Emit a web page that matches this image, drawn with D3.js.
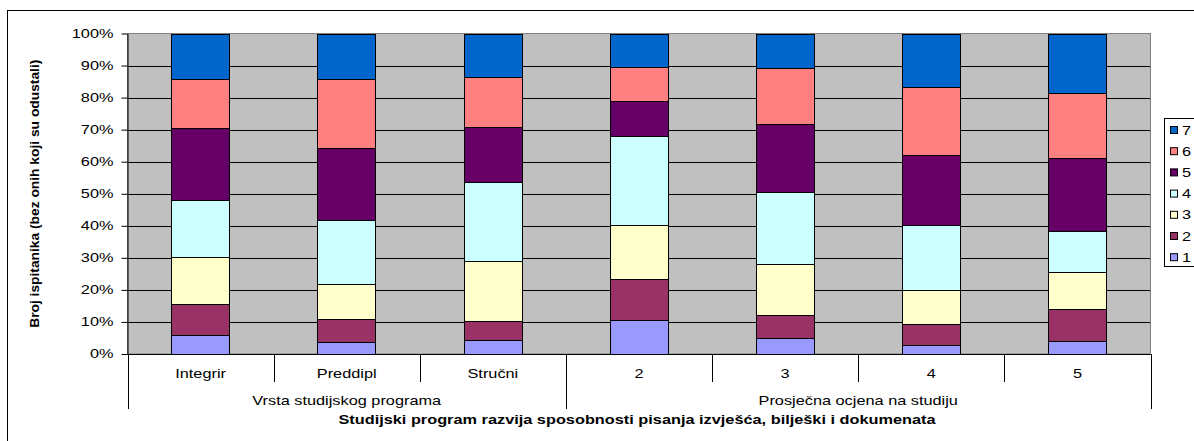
<!DOCTYPE html>
<html><head><meta charset="utf-8">
<script src="https://cdn.jsdelivr.net/npm/d3@7"></script>
<style>body{margin:0;background:#fff}svg{display:block;font-family:"Liberation Sans",Arial,sans-serif}</style>
</head><body>
<svg id="c" width="1194" height="441"></svg>
<script>
const categories = ["Integrir","Preddipl","Stručni","2","3","4","5"];
const groups = [{name:"Vrsta studijskog programa", from:0, to:3},{name:"Prosječna ocjena na studiju", from:3, to:7}];
const seriesNames = ["1","2","3","4","5","6","7"];
const colors = ["#9999FF","#993366","#FFFFCC","#CCFFFF","#660066","#FF8080","#0066CC"];
const s1 = [5.8, 3.6, 4.3, 10.5, 5.1, 2.7, 4.2];
const s2 = [9.8, 7.3, 5.9, 12.9, 7.0, 6.6, 9.8];
const s3 = [14.7, 10.9, 18.9, 16.9, 15.9, 10.6, 11.5];
const s4 = [17.8, 20.0, 24.6, 27.8, 22.6, 20.4, 12.8];
const s5 = [22.3, 22.4, 17.2, 10.8, 21.1, 21.7, 22.7];
const s6 = [15.3, 21.5, 15.6, 10.5, 17.4, 21.2, 20.3];
const s7 = [14.3, 14.3, 13.5, 10.6, 10.9, 16.8, 18.7];
const yTicks = [0,10,20,30,40,50,60,70,80,90,100];
const yTitle = "Broj ispitanika (bez onih koji su odustali)";
const xTitle = "Studijski program razvija sposobnosti pisanja izvješća, bilješki i dokumenata";

const series = [s1,s2,s3,s4,s5,s6,s7];
const svg = d3.select("#c");
const L = 127.5, R = 1150.5, T = 33.5, B = 354;
const FS = "12px", SX = 1.36;
const x = d3.scaleBand().domain(categories).range([L,R]).paddingInner(0).paddingOuter(0);
const y = d3.scaleLinear().domain([0,100]).range([B,T]);

function label(g, tx, ty, txt, anchor, bold, sx){
  return g.append("text").attr("transform",`translate(${tx},${ty}) scale(${sx||SX},1)`)
    .attr("text-anchor",anchor).attr("font-size",FS).attr("font-weight",bold?"bold":"normal")
    .attr("fill","#000").text(txt);
}

// outer frame
svg.append("rect").attr("x",7.5).attr("y",10.5).attr("width",1200).attr("height",440)
  .attr("fill","none").attr("stroke","#000").attr("stroke-width",1);

// plot background
svg.append("rect").attr("x",L).attr("y",T).attr("width",R-L).attr("height",B-T).attr("fill","#C0C0C0");
svg.append("g").selectAll("line").data(yTicks.slice(1,-1)).join("line")
  .attr("x1",L).attr("x2",R).attr("y1",d=>Math.round(y(d))+0.5).attr("y2",d=>Math.round(y(d))+0.5)
  .attr("stroke","#000").attr("stroke-width",1);
svg.append("rect").attr("x",L).attr("y",T).attr("width",R-L).attr("height",B-T)
  .attr("fill","none").attr("stroke","#808080").attr("stroke-width",1);

// stacked bars
const rows = categories.map((c,i)=>{const o={cat:c}; seriesNames.forEach((s,k)=>o[s]=series[k][i]); return o;});
const stack = d3.stack().keys(seriesNames)(rows);
const bw = x.bandwidth()/2.5;
svg.append("g").selectAll("g").data(stack).join("g").attr("fill",(d,i)=>colors[i])
  .selectAll("rect").data(d=>d).join("rect")
  .attr("x",d=>Math.round(x(d.data.cat)+x.bandwidth()/2-bw/2)+0.5)
  .attr("width",Math.round(bw))
  .attr("y",d=>Math.round(y(d[1]))+0.5)
  .attr("height",d=>Math.round(y(d[0]))-Math.round(y(d[1])))
  .attr("stroke","#000").attr("stroke-width",1);

// y axis
const ya = svg.append("g").attr("transform",`translate(${L},0)`)
  .call(d3.axisLeft(y).tickValues(yTicks).tickFormat(d=>d+"%").tickSize(6).tickSizeOuter(0));
ya.select(".domain").attr("stroke","#000");
ya.selectAll(".tick line").attr("stroke","#000");
ya.selectAll(".tick text").attr("font-size",FS).attr("fill","#000").attr("x",0)
  .attr("transform",`translate(-14,0) scale(${SX},1)`)
  .attr("font-family","'Liberation Sans',Arial,sans-serif");
svg.append("line").attr("x1",L).attr("x2",R).attr("y1",B+0.5).attr("y2",B+0.5).attr("stroke","#000");

// x axis category lines
const bounds = d3.range(categories.length+1).map(i=>L+i*x.step());
const groupBounds = new Set([0,3,7]);
svg.append("g").selectAll("line").data(bounds).join("line")
  .attr("x1",d=>Math.round(d)+0.5).attr("x2",d=>Math.round(d)+0.5)
  .attr("y1",B).attr("y2",(d,i)=>groupBounds.has(i)?409:382)
  .attr("stroke","#000").attr("stroke-width",1);
const xg = svg.append("g");
categories.forEach(c=>label(xg, x(c)+x.bandwidth()/2, 377.5, c, "middle", false));
groups.forEach(gr=>label(xg, (bounds[gr.from]+bounds[gr.to])/2, 404.5, gr.name, "middle", false));
label(xg, (L+R)/2-2, 423.5, xTitle, "middle", true);
svg.append("text").attr("transform",`translate(39,${(T+B)/2+0}) rotate(-90) scale(1.15,1)`).attr("text-anchor","middle")
  .attr("font-size",FS).attr("font-weight","bold").text(yTitle);

// legend
const lg = svg.append("g");
lg.append("rect").attr("x",1164.5).attr("y",118.5).attr("width",60).attr("height",148)
  .attr("fill","#fff").attr("stroke","#000");
const items = seriesNames.map((s,i)=>({s,c:colors[i]})).reverse();
const li = lg.selectAll("g").data(items).join("g")
  .attr("transform",(d,i)=>`translate(1170,${130+i*21.2})`);
li.append("rect").attr("x",0.5).attr("y",-3.5).attr("width",7).attr("height",7)
  .attr("fill",d=>d.c).attr("stroke","#000");
li.each(function(d){ label(d3.select(this), 12, 4.5, d.s, "start", false); });
</script>
</body></html>
